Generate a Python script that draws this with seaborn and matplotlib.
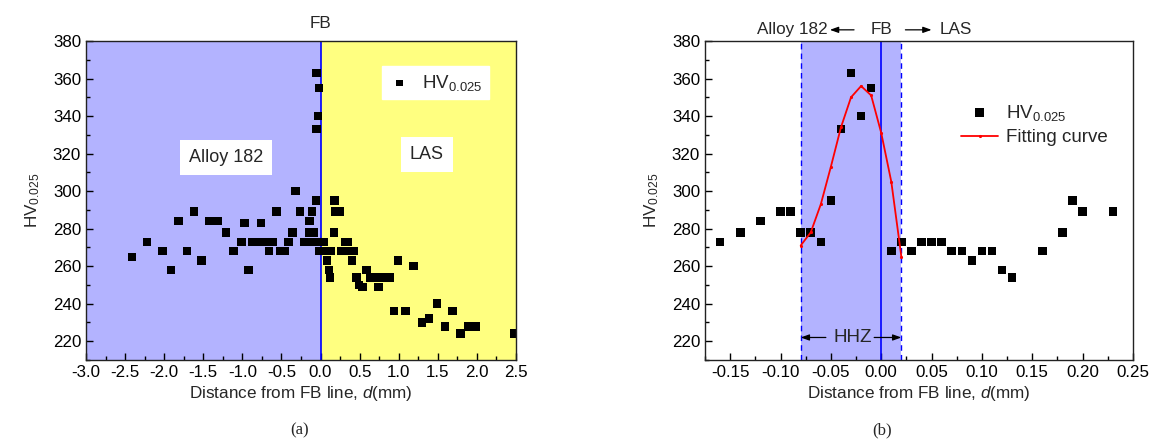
import numpy as np
import pandas as pd
import matplotlib
matplotlib.use("Agg")
import matplotlib.pyplot as plt
import seaborn as sns
from matplotlib.ticker import MultipleLocator, FormatStrFormatter

# ---------------- data ----------------
# panel (a)
a_x = [-2.41, -2.22, -2.02, -1.91, -1.82, -1.71, -1.62, -1.52, -1.42, -1.31,
       -1.21, -1.11, -1.01, -0.97, -0.92, -0.87, -0.82, -0.76, -0.71, -0.66,
       -0.61, -0.56, -0.51, -0.46, -0.41, -0.36, -0.32, -0.26, -0.21, -0.16,
       -0.15, -0.09, -0.14, -0.11, -0.06, -0.06, -0.05, -0.02, -0.03, -0.05,
       0.04, -0.01, 0.06, 0.13, 0.08, 0.11, 0.12, 0.18, 0.19, 0.25,
       0.17, 0.31, 0.35, 0.27, 0.38, 0.43, 0.40, 0.99, 0.59, 1.19,
       0.46, 0.64, 0.70, 0.76, 0.83, 0.89, 0.49, 0.54, 0.74, 0.94,
       1.09, 1.49, 1.69, 1.30, 1.39, 1.59, 1.79, 1.89, 1.99, 2.48]
a_hv = [265, 273, 268, 258, 284, 268, 289, 263, 284, 284,
        278, 268, 273, 283, 258, 273, 273, 283, 273, 268,
        273, 289, 268, 268, 273, 278, 300, 289, 273, 273,
        278, 278, 284, 289, 295, 273, 363, 355, 340, 333,
        273, 268, 268, 268, 263, 258, 254, 295, 289, 289,
        278, 273, 273, 268, 268, 268, 263, 263, 258, 260,
        254, 254, 254, 254, 254, 254, 250, 249, 249, 236,
        236, 240, 236, 230, 232, 228, 224, 228, 228, 224]

# panel (b)
b_x = [-0.16, -0.14, -0.12, -0.10, -0.09, -0.08, -0.07, -0.06, -0.05, -0.04,
       -0.03, -0.02, -0.01, 0.01, 0.02, 0.03, 0.04, 0.05, 0.06, 0.07,
       0.08, 0.09, 0.10, 0.11, 0.12, 0.13, 0.16, 0.18, 0.19, 0.20, 0.23]
b_hv = [273, 278, 284, 289, 289, 278, 278, 273, 295, 333,
        363, 340, 355, 268, 273, 268, 273, 273, 273, 268,
        268, 263, 268, 268, 258, 254, 268, 278, 295, 289, 289]
fit_x = [-0.08, -0.07, -0.06, -0.05, -0.04, -0.03, -0.02, -0.01, 0.00, 0.01, 0.02]
fit_hv = [271, 278, 293, 313, 334, 350, 356, 351, 331, 305, 265]

hhz_range = [-0.08, 0.02]
a_xticks = [-3.0, -2.5, -2.0, -1.5, -1.0, -0.5, 0.0, 0.5, 1.0, 1.5, 2.0, 2.5]
b_xticks = [-0.15, -0.10, -0.05, 0.00, 0.05, 0.10, 0.15, 0.20, 0.25]
y_ticks = [220, 240, 260, 280, 300, 320, 340, 360, 380]

df_a = pd.DataFrame({"x": a_x, "hv": a_hv})
df_b = pd.DataFrame({"x": b_x, "hv": b_hv})
df_fit = pd.DataFrame({"x": fit_x, "hv": fit_hv})

# ---------------- style ----------------
sns.set_style("ticks")
plt.rcParams["font.family"] = ["Liberation Sans", "DejaVu Sans"]
plt.rcParams["axes.unicode_minus"] = False
plt.rcParams["mathtext.fontset"] = "custom"
plt.rcParams["mathtext.rm"] = "Liberation Sans"
plt.rcParams["mathtext.it"] = "Liberation Sans:italic"

BLUE_FILL = "#B3B3FF"
YELLOW_FILL = "#FFFF80"
TICK_FS = 12.2
LAB_FS = 12.3
LEG_FS = 13.5

fig = plt.figure(figsize=(11.53, 4.42), dpi=100)
W, H = 1153, 442
ax1 = fig.add_axes([86 / W, 1 - 360 / H, 430 / W, 319 / H])
ax2 = fig.add_axes([705 / W, 1 - 360 / H, 428 / W, 319 / H])

hvlabel = r"HV$_{\mathregular{0.025}}$"

def style_axis(ax):
    ax.tick_params(which="both", direction="in", top=False, right=False,
                   labelsize=TICK_FS, width=1, colors="black")
    ax.tick_params(which="major", length=5)
    ax.tick_params(which="minor", length=3)
    for s in ax.spines.values():
        s.set_linewidth(1.0)
        s.set_color("#222222")
        s.set_visible(True)
        s.set_zorder(10)
    ax.set_ylim(210, 380)
    ax.set_yticks(y_ticks)
    ax.yaxis.set_minor_locator(MultipleLocator(10))
    ax.set_xlabel(r"Distance from FB line, $\mathit{d}$(mm)", fontsize=LAB_FS, labelpad=3)
    ax.set_ylabel(hvlabel, fontsize=LAB_FS, labelpad=8)

# ---------------- panel (a) ----------------
ax1.set_xlim(-3.0, 2.5)
ax1.axvspan(-3.0, 0.0, color=BLUE_FILL, zorder=0, lw=0)
ax1.axvspan(0.0, 2.5, color=YELLOW_FILL, zorder=0, lw=0)
ax1.axvline(0.0, color="#0000FF", lw=1.2, zorder=1)
sns.scatterplot(data=df_a, x="x", y="hv", ax=ax1, marker="s", s=38,
                color="black", edgecolor="none", label="HV$_{\\mathregular{0.025}}$", zorder=3)
style_axis(ax1)
ax1.set_xticks(a_xticks)
ax1.xaxis.set_major_formatter(FormatStrFormatter("%.1f"))
ax1.xaxis.set_minor_locator(MultipleLocator(0.25))
leg1 = ax1.legend(loc="upper right", bbox_to_anchor=(0.96, 0.95), fontsize=LEG_FS,
                  frameon=True, fancybox=False, handletextpad=0.6,
                  borderpad=0.35, handlelength=1.2, markerscale=0.8)
leg1.get_frame().set_facecolor("white")
leg1.get_frame().set_edgecolor("white")
leg1.get_frame().set_alpha(1)
bbox = dict(boxstyle="square,pad=0.5", fc="white", ec="none")
ax1.text(-1.21, 318, "Alloy 182", fontsize=LEG_FS - 0.5, ha="center", va="center", bbox=bbox, zorder=4)
ax1.text(1.36, 319.5, "LAS", fontsize=LEG_FS - 0.5, ha="center", va="center", bbox=bbox, zorder=4)
ax1.text(0.0, 1.03, "FB", transform=ax1.get_xaxis_transform(), fontsize=LAB_FS,
         ha="center", va="bottom")

# ---------------- panel (b) ----------------
ax2.set_xlim(-0.175, 0.25)
ax2.axvspan(hhz_range[0], hhz_range[1], color=BLUE_FILL, zorder=0, lw=0)
for xv in hhz_range:
    ax2.axvline(xv, color="#0000FF", lw=1.0, ls=(0, (4, 3)), zorder=1)
ax2.axvline(0.0, color="#0000FF", lw=1.2, zorder=1)
sns.scatterplot(data=df_b, x="x", y="hv", ax=ax2, marker="s", s=38,
                color="black", edgecolor="none", label="HV$_{\\mathregular{0.025}}$", zorder=3)
sns.lineplot(data=df_fit, x="x", y="hv", ax=ax2, color="#FF0000", lw=1.3,
             marker="o", markersize=1.5, markeredgecolor="#FF0000",
             label="Fitting curve", zorder=4, sort=False)
style_axis(ax2)
ax2.set_xticks(b_xticks)
ax2.xaxis.set_major_formatter(FormatStrFormatter("%.2f"))
ax2.xaxis.set_minor_locator(MultipleLocator(0.025))
ax2.legend(loc="upper right", bbox_to_anchor=(0.98, 0.86), fontsize=LEG_FS,
           frameon=False, handletextpad=0.4, handlelength=2.0, labelspacing=0.35,
           markerscale=1.0)

# top annotations
tr = ax2.get_xaxis_transform()
ytop = 1.035
ax2.text(-0.0535, ytop, "Alloy 182", transform=tr, fontsize=LAB_FS, ha="right", va="center")
ax2.text(0.0, ytop, "FB", transform=tr, fontsize=LAB_FS, ha="center", va="center")
ax2.text(0.058, ytop, "LAS", transform=tr, fontsize=LAB_FS, ha="left", va="center")
arrow_kw = dict(arrowstyle="-|>,head_length=0.5,head_width=0.18", color="black", lw=0.9,
                shrinkA=0, shrinkB=0)
ax2.annotate("", xy=(-0.051, ytop), xytext=(-0.027, ytop), xycoords=tr, textcoords=tr,
             arrowprops=arrow_kw, annotation_clip=False)
ax2.annotate("", xy=(0.050, ytop), xytext=(0.024, ytop), xycoords=tr, textcoords=tr,
             arrowprops=arrow_kw, annotation_clip=False)
# HHZ
ax2.text(-0.028, 222, "HHZ", fontsize=LEG_FS, ha="center", va="center", zorder=5)
ax2.annotate("", xy=(hhz_range[0], 222), xytext=(-0.055, 222),
             arrowprops=arrow_kw, zorder=5)
ax2.annotate("", xy=(hhz_range[1], 222), xytext=(-0.007, 222),
             arrowprops=arrow_kw, zorder=5)

# subtitles
fig.text(300 / W, 1 - 430 / H, "(a)", fontsize=12, family=["Liberation Serif", "DejaVu Serif"],
         ha="center", va="center")
fig.text(882 / W, 1 - 430 / H, "(b)", fontsize=12, family=["Liberation Serif", "DejaVu Serif"],
         ha="center", va="center")

fig.savefig("out.png", dpi=100, facecolor="white")
